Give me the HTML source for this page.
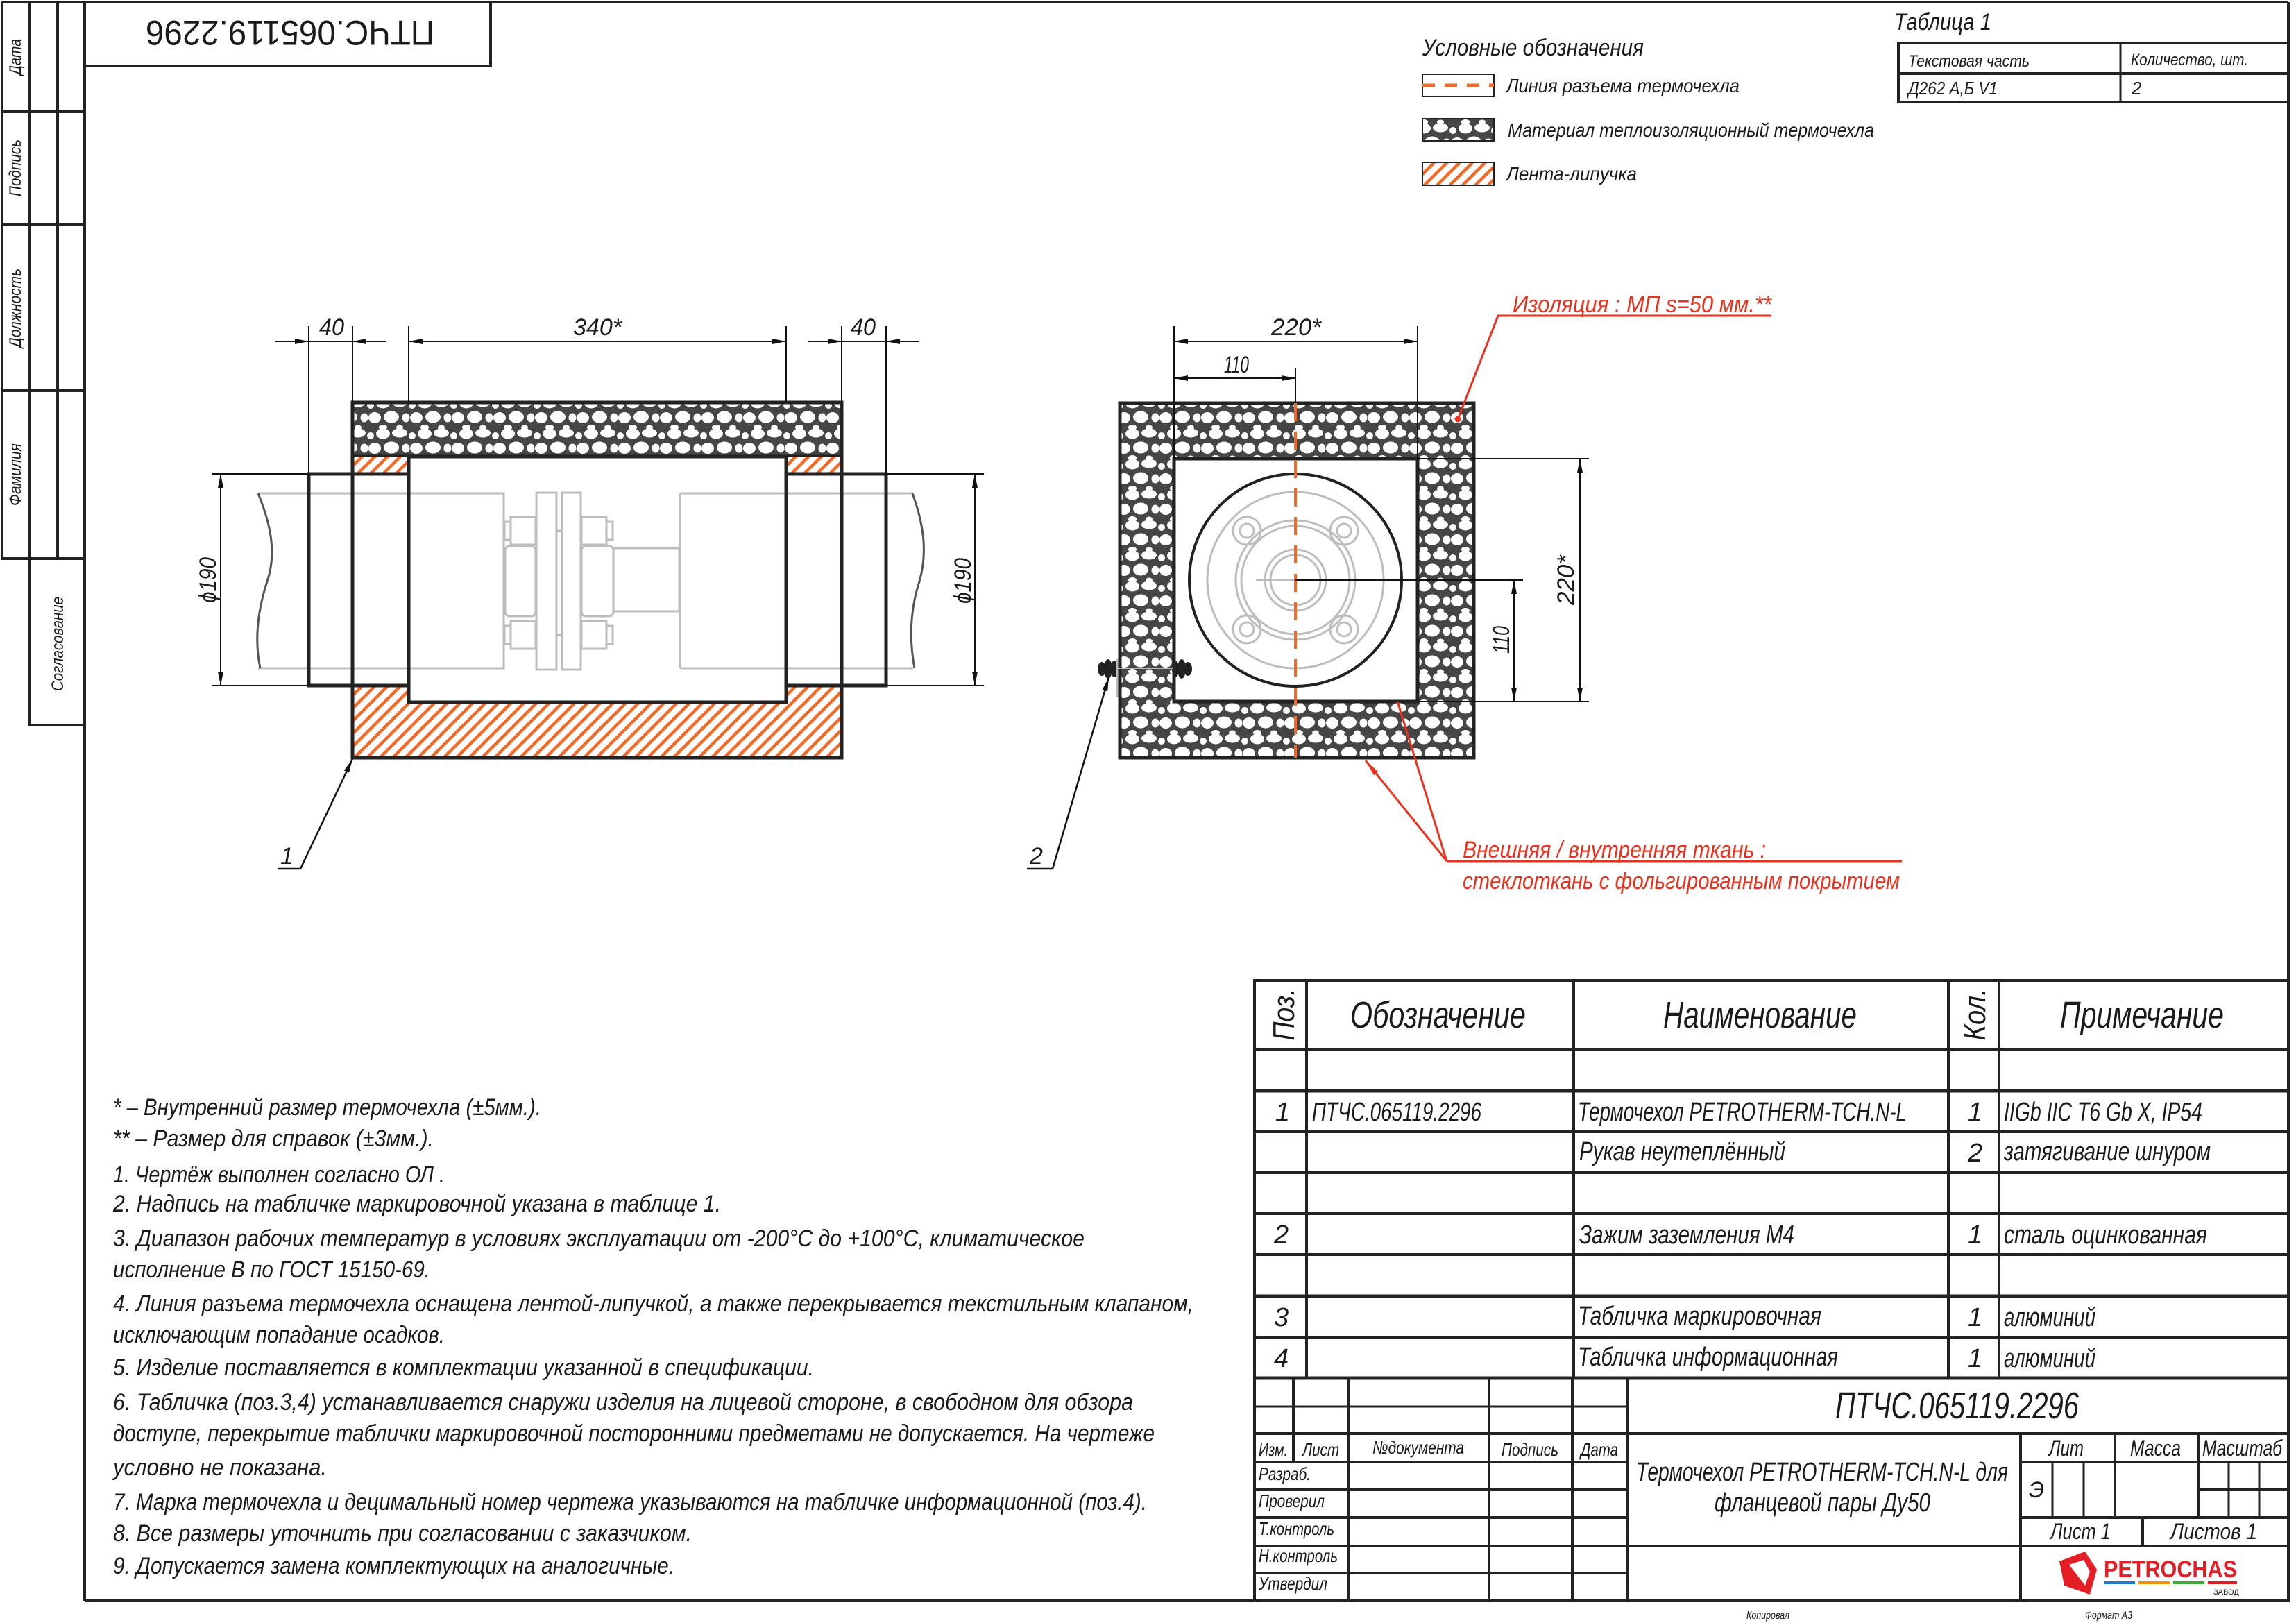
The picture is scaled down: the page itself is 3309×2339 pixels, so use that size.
<!DOCTYPE html>
<html><head><meta charset="utf-8"><style>
html,body{margin:0;padding:0;background:#fff}
svg{display:block}
text{font-family:"Liberation Sans","DejaVu Sans",sans-serif;font-style:italic;fill:#1a1a1a}
</style></head><body>
<svg width="3309" height="2339" viewBox="0 0 3309 2339" xmlns="http://www.w3.org/2000/svg">
<defs>
<pattern id="peb" patternUnits="userSpaceOnUse" width="60" height="44">
<rect width="60" height="44" fill="#464646"/>
<ellipse cx="12" cy="9" rx="10" ry="7.5" fill="#fff"/>
<ellipse cx="36" cy="8" rx="11" ry="6.5" fill="#fff"/>
<ellipse cx="54" cy="12" rx="5" ry="5" fill="#fff"/>
<ellipse cx="0" cy="30" rx="9" ry="8" fill="#fff"/>
<ellipse cx="60" cy="30" rx="9" ry="8" fill="#fff"/>
<ellipse cx="24" cy="29" rx="11" ry="8.5" fill="#fff"/>
<ellipse cx="45" cy="30" rx="5.5" ry="6.5" fill="#fff"/>
<ellipse cx="12" cy="44" rx="6" ry="4" fill="#fff"/>
<ellipse cx="12" cy="0" rx="6" ry="4" fill="#fff"/>
<ellipse cx="36" cy="44" rx="5" ry="3.5" fill="#fff"/>
<ellipse cx="36" cy="0" rx="5" ry="3.5" fill="#fff"/>
</pattern>
<pattern id="hat" patternUnits="userSpaceOnUse" width="13" height="13" patternTransform="rotate(45)">
<rect width="13" height="13" fill="#fff"/>
<rect x="0" y="0" width="4.5" height="13" fill="#f26a28"/>
</pattern>
<marker id="ar" viewBox="0 0 20 8" refX="20" refY="4" markerWidth="20" markerHeight="8" markerUnits="userSpaceOnUse" orient="auto-start-reverse">
<path d="M0,0 L20,4 L0,8 Z" fill="#111"/>
</marker>
<marker id="arR" viewBox="0 0 24 8" refX="24" refY="4" markerWidth="24" markerHeight="8" markerUnits="userSpaceOnUse" orient="auto">
<path d="M0,0 L24,4 L0,8 Z" fill="#e8321e"/>
</marker>
</defs>

<!-- FRAME -->
<g stroke="#222" stroke-width="4" fill="none">
<line x1="122" y1="3" x2="3298" y2="3"/>
<line x1="122" y1="3" x2="122" y2="2307"/>
<line x1="3298" y1="3" x2="3298" y2="2307"/>
<line x1="122" y1="2307" x2="3298" y2="2307"/>
<rect x="3" y="3" width="119" height="802"/>
<line x1="42" y1="3" x2="42" y2="805"/>
<line x1="83" y1="3" x2="83" y2="805"/>
<line x1="3" y1="161" x2="122" y2="161"/>
<line x1="3" y1="323" x2="122" y2="323"/>
<line x1="3" y1="563" x2="122" y2="563"/>
<rect x="42" y="805" width="80" height="240"/>
<rect x="122" y="3" width="585" height="92"/>
</g>
<g font-size="24">
<text transform="translate(30,82) rotate(-90)" text-anchor="middle" textLength="52" lengthAdjust="spacingAndGlyphs">Дата</text>
<text transform="translate(30,242) rotate(-90)" text-anchor="middle" textLength="82" lengthAdjust="spacingAndGlyphs">Подпись</text>
<text transform="translate(30,444) rotate(-90)" text-anchor="middle" textLength="114" lengthAdjust="spacingAndGlyphs">Должность</text>
<text transform="translate(30,684) rotate(-90)" text-anchor="middle" textLength="90" lengthAdjust="spacingAndGlyphs">Фамилия</text>
<text transform="translate(91,928) rotate(-90)" text-anchor="middle" textLength="136" lengthAdjust="spacingAndGlyphs">Согласование</text>
</g>
<text transform="rotate(180 418 48)" x="418" y="66" font-size="50" text-anchor="middle" textLength="416" lengthAdjust="spacingAndGlyphs" style="font-style:normal">ПТЧС.065119.2296</text>

<!-- LEGEND -->
<text x="2050" y="80" font-size="34" textLength="319" lengthAdjust="spacingAndGlyphs">Условные обозначения</text>
<rect x="2050" y="107" width="103" height="32" fill="#fff" stroke="#222" stroke-width="2"/>
<line x1="2050" y1="123" x2="2153" y2="123" stroke="#f26a28" stroke-width="5" stroke-dasharray="18,14"/>
<text x="2171" y="133" font-size="28" textLength="336" lengthAdjust="spacingAndGlyphs">Линия разъема термочехла</text>
<rect x="2050" y="171" width="103" height="32" fill="url(#peb)" stroke="#222" stroke-width="2"/>
<text x="2173" y="197" font-size="28" textLength="528" lengthAdjust="spacingAndGlyphs">Материал теплоизоляционный термочехла</text>
<rect x="2050" y="234" width="103" height="33" fill="url(#hat)" stroke="#222" stroke-width="2"/>
<text x="2171" y="260" font-size="28" textLength="188" lengthAdjust="spacingAndGlyphs">Лента-липучка</text>

<!-- TABLE 1 -->
<text x="2730" y="43" font-size="34" textLength="140" lengthAdjust="spacingAndGlyphs">Таблица 1</text>
<g stroke="#222" fill="none">
<rect x="2736" y="62" width="562" height="85" stroke-width="4"/>
<line x1="2736" y1="106" x2="3298" y2="106" stroke-width="4"/>
<line x1="3056" y1="62" x2="3056" y2="147" stroke-width="3"/>
</g>
<text x="2750" y="96" font-size="24" textLength="175" lengthAdjust="spacingAndGlyphs">Текстовая часть</text>
<text x="3071" y="94" font-size="24" textLength="169" lengthAdjust="spacingAndGlyphs">Количество, шт.</text>
<text x="2750" y="136" font-size="26" textLength="129" lengthAdjust="spacingAndGlyphs">Д262 А,Б V1</text>
<text x="3072" y="136" font-size="26">2</text>

<!-- LEFT DRAWING: gray flange assembly -->
<g stroke="#bdbdbd" stroke-width="3" fill="none">
<path d="M372,711 L726,711 L726,963 L372,963"/>
<path d="M980,711 L1316,711 M980,963 L1316,963 M980,711 L980,963"/>
<rect x="773" y="710" width="29" height="255"/>
<rect x="810" y="710" width="27" height="255"/>
<rect x="884" y="790" width="95" height="91"/>
<rect x="728" y="787" width="44" height="101" rx="6"/>
<rect x="838" y="787" width="46" height="101" rx="6"/>
<rect x="736" y="745" width="36" height="40"/><rect x="727" y="752" width="9" height="26"/>
<rect x="838" y="745" width="36" height="40"/><rect x="874" y="752" width="9" height="26"/>
<rect x="736" y="895" width="36" height="40"/><rect x="727" y="902" width="9" height="26"/>
<rect x="838" y="895" width="36" height="40"/><rect x="874" y="902" width="9" height="26"/>
<line x1="802" y1="765" x2="810" y2="765"/><line x1="802" y1="915" x2="810" y2="915"/>
</g>
<g stroke="#555" stroke-width="3" fill="none">
<path d="M372,711 C392,760 398,800 385,838 C372,878 366,920 375,963"/>
<path d="M1315,711 C1333,760 1336,800 1325,838 C1312,878 1310,920 1318,963"/>
</g>
<!-- insulation & hatch -->
<rect x="508" y="580" width="705" height="78" fill="url(#peb)" stroke="#222" stroke-width="5"/>
<rect x="508" y="658" width="81" height="25" fill="url(#hat)"/>
<rect x="1133" y="658" width="80" height="25" fill="url(#hat)"/>
<path d="M508,988 L589,988 L589,1012 L1133,1012 L1133,988 L1213,988 L1213,1092 L508,1092 Z" fill="url(#hat)" stroke="#222" stroke-width="5"/>
<g stroke="#222" stroke-width="5" fill="none">
<line x1="508" y1="658" x2="508" y2="1092"/>
<line x1="1213" y1="658" x2="1213" y2="1092"/>
<rect x="589" y="658" width="544" height="354"/>
<rect x="445" y="683" width="144" height="305"/>
<rect x="1133" y="683" width="144" height="305"/>
</g>
<!-- dims left -->
<g stroke="#111" stroke-width="2" fill="none">
<line x1="445" y1="470" x2="445" y2="683"/>
<line x1="508" y1="470" x2="508" y2="580"/>
<line x1="589" y1="470" x2="589" y2="580"/>
<line x1="1133" y1="470" x2="1133" y2="580"/>
<line x1="1213" y1="470" x2="1213" y2="580"/>
<line x1="1277" y1="470" x2="1277" y2="683"/>
<line x1="397" y1="492" x2="445" y2="492" marker-end="url(#ar)"/>
<line x1="556" y1="492" x2="508" y2="492" marker-end="url(#ar)"/>
<line x1="589" y1="492" x2="1133" y2="492" marker-start="url(#ar)" marker-end="url(#ar)"/>
<line x1="1165" y1="492" x2="1213" y2="492" marker-end="url(#ar)"/>
<line x1="1325" y1="492" x2="1277" y2="492" marker-end="url(#ar)"/>
<line x1="1213" y1="492" x2="1277" y2="492"/>
<line x1="445" y1="492" x2="508" y2="492"/>
<line x1="305" y1="683" x2="445" y2="683"/>
<line x1="305" y1="988" x2="445" y2="988"/>
<line x1="318" y1="683" x2="318" y2="988" marker-start="url(#ar)" marker-end="url(#ar)"/>
<line x1="1277" y1="683" x2="1418" y2="683"/>
<line x1="1277" y1="988" x2="1418" y2="988"/>
<line x1="1405" y1="683" x2="1405" y2="988" marker-start="url(#ar)" marker-end="url(#ar)"/>
</g>
<g font-size="34">
<text x="460" y="483" textLength="36" lengthAdjust="spacingAndGlyphs">40</text>
<text x="826" y="483" textLength="70" lengthAdjust="spacingAndGlyphs">340*</text>
<text x="1226" y="483" textLength="36" lengthAdjust="spacingAndGlyphs">40</text>
<text transform="translate(311,836) rotate(-90)" text-anchor="middle" textLength="66" lengthAdjust="spacingAndGlyphs">ϕ190</text>
<text transform="translate(1399,837) rotate(-90)" text-anchor="middle" textLength="66" lengthAdjust="spacingAndGlyphs">ϕ190</text>
</g>
<!-- leader 1 -->
<g stroke="#111" stroke-width="2.5" fill="none">
<line x1="433" y1="1252" x2="508" y2="1094" marker-end="url(#ar)"/>
<line x1="400" y1="1252" x2="433" y2="1252"/>
</g>
<text x="404" y="1245" font-size="34">1</text>

<!-- RIGHT DRAWING -->
<path d="M1614,581 H2124 V1092 H1614 Z M1692,661 V1011 H2043 V661 Z" fill="url(#peb)" fill-rule="evenodd" stroke="#222" stroke-width="5"/>
<g stroke="#bdbdbd" stroke-width="3" fill="none">
<circle cx="1867" cy="836" r="127"/>
<circle cx="1867" cy="836" r="86"/>
<circle cx="1867" cy="836" r="78"/>
<circle cx="1867" cy="836" r="44"/>
<circle cx="1867" cy="836" r="36"/>
<circle cx="1797" cy="765" r="20"/><circle cx="1797" cy="765" r="10"/>
<circle cx="1937" cy="765" r="20"/><circle cx="1937" cy="765" r="10"/>
<circle cx="1797" cy="907" r="20"/><circle cx="1797" cy="907" r="10"/>
<circle cx="1937" cy="907" r="20"/><circle cx="1937" cy="907" r="10"/>
<line x1="1810" y1="836" x2="1960" y2="836"/>
</g>
<circle cx="1867" cy="836" r="153" fill="none" stroke="#222" stroke-width="4"/>
<line x1="1867" y1="581" x2="1867" y2="1092" stroke="#f26a28" stroke-width="4" stroke-dasharray="26,15"/>
<!-- grounding clamp -->
<g fill="#222">
<ellipse cx="1588" cy="964" rx="6" ry="10"/><ellipse cx="1597" cy="964" rx="6" ry="14"/><ellipse cx="1606" cy="964" rx="5" ry="12"/>
<ellipse cx="1712" cy="964" rx="6" ry="10"/><ellipse cx="1703" cy="964" rx="6" ry="14"/><ellipse cx="1694" cy="964" rx="5" ry="12"/>
</g>
<line x1="1610" y1="963" x2="1690" y2="963" stroke="#bbb" stroke-width="2"/>
<line x1="1610" y1="950" x2="1610" y2="1005" stroke="#bbb" stroke-width="3"/>
<g stroke="#111" stroke-width="2" fill="none">
<line x1="1692" y1="470" x2="1692" y2="661"/>
<line x1="2043" y1="470" x2="2043" y2="661"/>
<line x1="1867" y1="530" x2="1867" y2="581"/>
<line x1="1692" y1="492" x2="2043" y2="492" marker-start="url(#ar)" marker-end="url(#ar)"/>
<line x1="1692" y1="545" x2="1867" y2="545" marker-start="url(#ar)" marker-end="url(#ar)"/>
<line x1="2043" y1="661" x2="2290" y2="661"/>
<line x1="2043" y1="1011" x2="2290" y2="1011"/>
<line x1="1867" y1="836" x2="2195" y2="836"/>
<line x1="2277" y1="661" x2="2277" y2="1011" marker-start="url(#ar)" marker-end="url(#ar)"/>
<line x1="2182" y1="836" x2="2182" y2="1011" marker-start="url(#ar)" marker-end="url(#ar)"/>
</g>
<g font-size="34">
<text x="1832" y="483" textLength="72" lengthAdjust="spacingAndGlyphs">220*</text>
<text x="1764" y="537" textLength="36" lengthAdjust="spacingAndGlyphs">110</text>
<text transform="translate(2268,836) rotate(-90)" text-anchor="middle" textLength="72" lengthAdjust="spacingAndGlyphs">220*</text>
<text transform="translate(2175,922) rotate(-90)" text-anchor="middle" textLength="40" lengthAdjust="spacingAndGlyphs">110</text>
</g>
<g stroke="#111" stroke-width="2.5" fill="none">
<line x1="1517" y1="1252" x2="1598" y2="976" marker-end="url(#ar)"/>
<line x1="1480" y1="1252" x2="1517" y2="1252"/>
</g>
<text x="1484" y="1245" font-size="34">2</text>
<!-- red leaders -->
<g stroke="#e8321e" stroke-width="3" fill="none">
<polyline points="2553,455 2159,455 2101,604"/>
<circle cx="2101" cy="604" r="3" fill="#e8321e"/>
<line x1="2085" y1="1241" x2="1968" y2="1096" marker-end="url(#arR)"/>
<line x1="2085" y1="1241" x2="2014" y2="1011"/>
<line x1="2085" y1="1241" x2="2741" y2="1241"/>
</g>
<g font-size="34">
<text x="2180" y="450" textLength="373" lengthAdjust="spacingAndGlyphs" style="fill:#e8321e">Изоляция : МП  s=50 мм.**</text>
<text x="2108" y="1236" textLength="437" lengthAdjust="spacingAndGlyphs" style="fill:#e8321e">Внешняя / внутренняя ткань :</text>
<text x="2108" y="1281" textLength="630" lengthAdjust="spacingAndGlyphs" style="fill:#e8321e">стеклоткань с фольгированным покрытием</text>
</g>

<!-- NOTES -->
<g font-size="34">
<text x="163" y="1607" textLength="617" lengthAdjust="spacingAndGlyphs">* – Внутренний размер термочехла (±5мм.).</text>
<text x="163" y="1652" textLength="462" lengthAdjust="spacingAndGlyphs">** – Размер для справок (±3мм.).</text>
<text x="163" y="1704" textLength="478" lengthAdjust="spacingAndGlyphs">1. Чертёж выполнен согласно ОЛ .</text>
<text x="163" y="1746" textLength="876" lengthAdjust="spacingAndGlyphs">2. Надпись на табличке маркировочной указана в таблице 1.</text>
<text x="163" y="1796" textLength="1400" lengthAdjust="spacingAndGlyphs">3. Диапазон рабочих температур в условиях эксплуатации от -200°С до +100°С, климатическое</text>
<text x="163" y="1841" textLength="457" lengthAdjust="spacingAndGlyphs">исполнение В по ГОСТ 15150-69.</text>
<text x="163" y="1890" textLength="1557" lengthAdjust="spacingAndGlyphs">4. Линия разъема термочехла оснащена лентой-липучкой, а также перекрывается текстильным клапаном,</text>
<text x="163" y="1935" textLength="478" lengthAdjust="spacingAndGlyphs">исключающим попадание осадков.</text>
<text x="163" y="1982" textLength="1010" lengthAdjust="spacingAndGlyphs">5. Изделие поставляется в комплектации указанной в спецификации.</text>
<text x="163" y="2032" textLength="1470" lengthAdjust="spacingAndGlyphs">6. Табличка (поз.3,4) устанавливается снаружи изделия на лицевой стороне, в свободном для обзора</text>
<text x="163" y="2077" textLength="1501" lengthAdjust="spacingAndGlyphs">доступе, перекрытие таблички маркировочной посторонними предметами не допускается. На чертеже</text>
<text x="163" y="2126" textLength="308" lengthAdjust="spacingAndGlyphs">условно не показана.</text>
<text x="163" y="2176" textLength="1490" lengthAdjust="spacingAndGlyphs">7. Марка термочехла и децимальный номер чертежа указываются на табличке информационной (поз.4).</text>
<text x="163" y="2221" textLength="834" lengthAdjust="spacingAndGlyphs">8. Все размеры уточнить при согласовании с заказчиком.</text>
<text x="163" y="2268" textLength="809" lengthAdjust="spacingAndGlyphs">9. Допускается замена комплектующих на аналогичные.</text>
</g>

<!-- SPEC TABLE -->
<g stroke="#222" stroke-width="4" fill="none">
<rect x="1808" y="1413" width="1490" height="894"/>
<line x1="1883" y1="1413" x2="1883" y2="1986"/>
<line x1="2268" y1="1413" x2="2268" y2="1986"/>
<line x1="2808" y1="1413" x2="2808" y2="1986"/>
<line x1="2881" y1="1413" x2="2881" y2="1986"/>
<line x1="1808" y1="1512" x2="3298" y2="1512"/>
<line x1="1808" y1="1572" x2="3298" y2="1572" stroke-width="5"/>
<line x1="1808" y1="1631" x2="3298" y2="1631"/>
<line x1="1808" y1="1690" x2="3298" y2="1690"/>
<line x1="1808" y1="1749" x2="3298" y2="1749"/>
<line x1="1808" y1="1808" x2="3298" y2="1808"/>
<line x1="1808" y1="1868" x2="3298" y2="1868" stroke-width="5"/>
<line x1="1808" y1="1927" x2="3298" y2="1927"/>
<line x1="1808" y1="1986" x2="3298" y2="1986" stroke-width="5"/>
<line x1="1864" y1="1986" x2="1864" y2="2107"/>
<line x1="1944" y1="1986" x2="1944" y2="2307"/>
<line x1="2146" y1="1986" x2="2146" y2="2307"/>
<line x1="2266" y1="1986" x2="2266" y2="2307"/>
<line x1="2346" y1="1986" x2="2346" y2="2307"/>
<line x1="1808" y1="2027" x2="2346" y2="2027" stroke-width="3"/>
<line x1="1808" y1="2066" x2="3298" y2="2066"/>
<line x1="1808" y1="2107" x2="2346" y2="2107"/>
<line x1="1808" y1="2147" x2="2346" y2="2147"/>
<line x1="1808" y1="2187" x2="2346" y2="2187"/>
<line x1="1808" y1="2228" x2="3298" y2="2228"/>
<line x1="1808" y1="2267" x2="2346" y2="2267"/>
<line x1="2912" y1="2066" x2="2912" y2="2307"/>
<line x1="2912" y1="2107" x2="3298" y2="2107"/>
<line x1="2912" y1="2187" x2="3298" y2="2187"/>
<line x1="2958" y1="2107" x2="2958" y2="2187" stroke-width="3"/>
<line x1="3003" y1="2107" x2="3003" y2="2187" stroke-width="3"/>
<line x1="3048" y1="2066" x2="3048" y2="2187"/>
<line x1="3169" y1="2066" x2="3169" y2="2187"/>
<line x1="3212" y1="2107" x2="3212" y2="2187" stroke-width="3"/>
<line x1="3256" y1="2107" x2="3256" y2="2187" stroke-width="3"/>
<line x1="3169" y1="2147" x2="3298" y2="2147"/>
<line x1="3088" y1="2187" x2="3088" y2="2228"/>
</g>
<g font-size="54">
<text transform="translate(1865,1462) rotate(-90)" text-anchor="middle" font-size="44" textLength="75" lengthAdjust="spacingAndGlyphs">Поз.</text>
<text transform="translate(2861,1462) rotate(-90)" text-anchor="middle" font-size="44" textLength="75" lengthAdjust="spacingAndGlyphs">Кол.</text>
<text x="1946" y="1481" textLength="253" lengthAdjust="spacingAndGlyphs">Обозначение</text>
<text x="2397" y="1481" textLength="279" lengthAdjust="spacingAndGlyphs">Наименование</text>
<text x="2969" y="1481" textLength="236" lengthAdjust="spacingAndGlyphs">Примечание</text>
</g>
<g font-size="38">
<text x="1838" y="1615">1</text>
<text x="1891" y="1615" textLength="244" lengthAdjust="spacingAndGlyphs">ПТЧС.065119.2296</text>
<text x="2274" y="1615" textLength="474" lengthAdjust="spacingAndGlyphs">Термочехол PETROTHERM-TCH.N-L</text>
<text x="2836" y="1615">1</text>
<text x="2888" y="1615" textLength="286" lengthAdjust="spacingAndGlyphs">IIGb IIC T6 Gb X, IP54</text>
<text x="2276" y="1672" textLength="297" lengthAdjust="spacingAndGlyphs">Рукав неутеплённый</text>
<text x="2836" y="1674">2</text>
<text x="2888" y="1672" textLength="298" lengthAdjust="spacingAndGlyphs">затягивание шнуром</text>
<text x="1836" y="1792">2</text>
<text x="2276" y="1792" textLength="310" lengthAdjust="spacingAndGlyphs">Зажим заземления М4</text>
<text x="2836" y="1792">1</text>
<text x="2888" y="1792" textLength="293" lengthAdjust="spacingAndGlyphs">сталь оцинкованная</text>
<text x="1836" y="1911">3</text>
<text x="2274" y="1909" textLength="351" lengthAdjust="spacingAndGlyphs">Табличка маркировочная</text>
<text x="2836" y="1911">1</text>
<text x="2888" y="1911" textLength="132" lengthAdjust="spacingAndGlyphs">алюминий</text>
<text x="1836" y="1970">4</text>
<text x="2274" y="1968" textLength="375" lengthAdjust="spacingAndGlyphs">Табличка информационная</text>
<text x="2836" y="1970">1</text>
<text x="2888" y="1970" textLength="132" lengthAdjust="spacingAndGlyphs">алюминий</text>
</g>
<text x="2645" y="2044" font-size="54" textLength="351" lengthAdjust="spacingAndGlyphs">ПТЧС.065119.2296</text>
<text x="2358" y="2134" font-size="38" textLength="536" lengthAdjust="spacingAndGlyphs">Термочехол PETROTHERM-TCH.N-L для</text>
<text x="2471" y="2178" font-size="38" textLength="311" lengthAdjust="spacingAndGlyphs">фланцевой пары Ду50</text>
<g font-size="26">
<text x="1814" y="2098" textLength="42" lengthAdjust="spacingAndGlyphs">Изм.</text>
<text x="1877" y="2098" textLength="53" lengthAdjust="spacingAndGlyphs">Лист</text>
<text x="1978" y="2095" textLength="132" lengthAdjust="spacingAndGlyphs">№документа</text>
<text x="2164" y="2098" textLength="82" lengthAdjust="spacingAndGlyphs">Подпись</text>
<text x="2278" y="2098" textLength="54" lengthAdjust="spacingAndGlyphs">Дата</text>
<text x="1814" y="2133" textLength="75" lengthAdjust="spacingAndGlyphs">Разраб.</text>
<text x="1814" y="2172" textLength="95" lengthAdjust="spacingAndGlyphs">Проверил</text>
<text x="1814" y="2212" textLength="109" lengthAdjust="spacingAndGlyphs">Т.контроль</text>
<text x="1814" y="2251" textLength="114" lengthAdjust="spacingAndGlyphs">Н.контроль</text>
<text x="1814" y="2291" textLength="99" lengthAdjust="spacingAndGlyphs">Утвердил</text>
</g>
<g font-size="32">
<text x="2953" y="2098" textLength="50" lengthAdjust="spacingAndGlyphs">Лит</text>
<text x="3070" y="2098" textLength="73" lengthAdjust="spacingAndGlyphs">Масса</text>
<text x="3174" y="2098" textLength="115" lengthAdjust="spacingAndGlyphs">Масштаб</text>
<text x="2924" y="2158">Э</text>
<text x="2955" y="2218" textLength="87" lengthAdjust="spacingAndGlyphs">Лист 1</text>
<text x="3128" y="2218" textLength="125" lengthAdjust="spacingAndGlyphs">Листов  1</text>
</g>
<!-- logo -->
<path d="M2968,2250 L3005,2236 L3022,2262 L3012,2298 L2975,2285 Z" fill="#e31e24"/>
<path d="M2982,2255 L3003,2248 L3012,2265 L3005,2285 Z" fill="#fff"/>
<text x="3032" y="2273" font-size="34" textLength="192" lengthAdjust="spacingAndGlyphs" style="font-style:normal;font-weight:bold;fill:#e31e24">PETROCHAS</text>
<rect x="3032" y="2279" width="45" height="4" fill="#1f7ac9"/>
<rect x="3082" y="2279" width="45" height="4" fill="#f39200"/>
<rect x="3132" y="2279" width="45" height="4" fill="#3aaa35"/>
<rect x="3182" y="2279" width="42" height="4" fill="#e31e24"/>
<text x="3190" y="2298" font-size="11" style="font-style:normal">ЗАВОД</text>
<text x="2517" y="2333" font-size="16" textLength="62" lengthAdjust="spacingAndGlyphs">Копировал</text>
<text x="3005" y="2333" font-size="16" textLength="68" lengthAdjust="spacingAndGlyphs">Формат А3</text>
</svg>
</body></html>
